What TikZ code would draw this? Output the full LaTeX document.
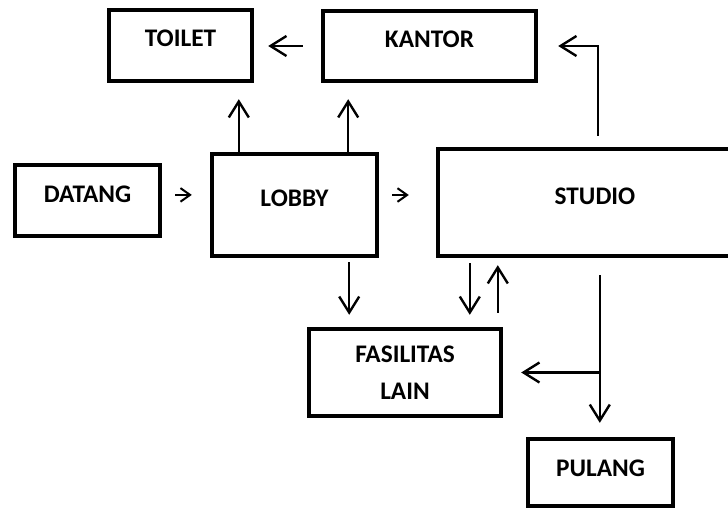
\documentclass[tikz,border=0pt]{standalone}
\usepackage{fontspec}
\setmainfont{Carlito}
\usetikzlibrary{arrows.meta}

\begin{document}
\begin{tikzpicture}[
  x=0.25mm, y=-0.25mm,
  block/.style={draw, line width=1.1mm, rectangle, align=center, inner sep=0pt, font=\fontsize{18}{26}\selectfont\bfseries},
  capblock/.style={block, text height=4.25mm, text depth=3.5mm},
  arrow/.style={-{Straight Barb[length=4mm,width=5mm]}, line width=0.6mm},
  smallarrow/.style={-{Straight Barb[length=2.4mm,width=3.4mm]}, line width=0.5mm}
]
\useasboundingbox (0,0) rectangle (728,509);
\clip (0,0) rectangle (728,509);

\node[capblock, minimum width=35.75mm, minimum height=17.75mm] (toilet) at (180.5,45.5) {TOILET};
\node[capblock, minimum width=53.25mm, minimum height=17.5mm] (kantor) at (429.5,46) {KANTOR};
\node[capblock, minimum width=36.25mm, minimum height=17.75mm] (datang) at (87.5,200.5) {DATANG};
\node[capblock, minimum width=41.25mm, minimum height=25.5mm] (lobby) at (294.5,205) {LOBBY};
\node[capblock, minimum width=75mm, minimum height=26.75mm] (studio) at (588,202.5) {\hspace*{3.5mm}STUDIO};
\node[block, minimum width=48mm, minimum height=21.75mm] (fasilitas) at (405,372.5) {FASILITAS\\LAIN};
\node[capblock, text depth=2.25mm, minimum width=36.25mm, minimum height=16.75mm] (pulang) at (600.5,472.5) {PULANG};

\draw[arrow, shorten <=4.5mm, shorten >=3.5mm] (kantor.west) -- (kantor.west -| toilet.east);

\draw[smallarrow, shorten <=3.25mm, shorten >=4.5mm] ([yshift=1.4mm]datang.east) -- ([yshift=1.4mm]datang.east -| lobby.west);
\draw[smallarrow, shorten <=3.25mm, shorten >=6.75mm] ([yshift=2.5mm]lobby.east) -- ([yshift=2.5mm]lobby.east -| studio.west);

\draw[arrow, shorten >=4mm] ([xshift=7.25mm]lobby.north west) -- ([xshift=7.25mm]lobby.north west |- toilet.south);
\draw[arrow, shorten >=4mm] ([xshift=-7.75mm]lobby.north east) -- ([xshift=-7.75mm]lobby.north east |- kantor.south);

\draw[arrow, shorten <=2.75mm, shorten >=5mm] ([xshift=40.5mm]studio.north west) |- (kantor.east);

\draw[arrow, shorten <=1mm, shorten >=3mm] ([xshift=-7.5mm]lobby.south east) -- ([xshift=-7.5mm]lobby.south east |- fasilitas.north);
\draw[arrow, shorten <=1.25mm, shorten >=3mm] ([xshift=8.5mm]studio.south west) -- ([xshift=8.5mm]studio.south west |- fasilitas.north);
\draw[arrow, shorten <=3.5mm, shorten >=1.75mm] ([xshift=15.5mm]studio.south west |- fasilitas.north) -- ([xshift=15.5mm]studio.south west);

\coordinate (split) at ([xshift=41mm]studio.south west |- fasilitas.east);
\draw[arrow, shorten <=4.25mm, shorten >=3.5mm] ([xshift=41mm]studio.south west) -- ([xshift=41mm]studio.south west |- pulang.north);
\draw[arrow, shorten >=4.5mm] (split) -- (fasilitas.east);

\end{tikzpicture}
\end{document}
